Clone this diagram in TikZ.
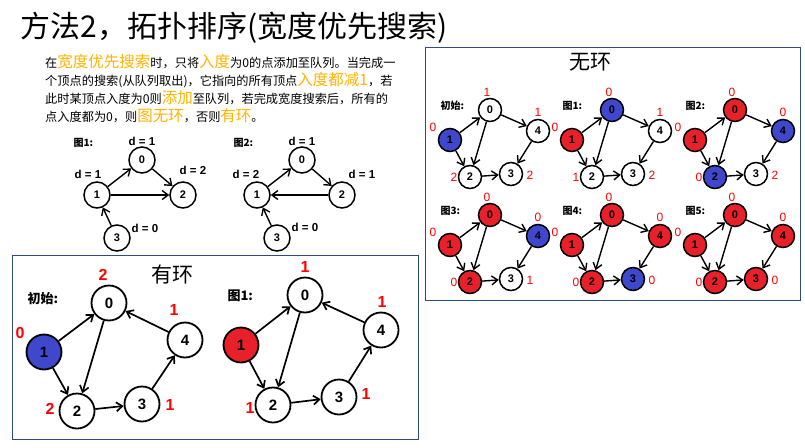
\documentclass[tikz,border=0pt]{standalone}
\usepackage{fontspec}
\setmainfont{Liberation Sans}
\newfontfamily\cjk{Noto Sans CJK SC}
\usetikzlibrary{arrows.meta}
\definecolor{hl}{HTML}{FFB400}
\definecolor{nred}{HTML}{E8202A}
\definecolor{nblue}{HTML}{3F48CC}
\definecolor{boxb}{HTML}{2F4A8A}
\tikzset{
  vx/.style={circle,draw=black,line width=1.5pt,minimum size=#1,inner sep=0pt,font=\bfseries\fontsize{11}{11}\selectfont},
  vx/.default=23pt,
  ed/.style={line width=1.4pt,-{Straight Barb[length=6pt,width=9pt]}},
  rl/.style={text=red,font=\fontsize{12}{12}\selectfont},
  captxt/.style={font=\cjk\bfseries\fontsize{10}{10}\selectfont,anchor=west},
  dl/.style={font=\bfseries\fontsize{11.5}{11.5}\selectfont}
}
\newcommand\hlt[1]{{\color{hl}\fontsize{15.5}{15}\selectfont #1}}
% prefix, caption, fill colors 0..4
\newcommand\acycnodes[7]{%
  \node[captxt] at (437,106) {#2};
  \node[vx,fill=#3] (#10) at (490,110) {0};
  \node[vx,fill=#4] (#11) at (450,140) {1};
  \node[vx,fill=#5] (#12) at (470,177) {2};
  \node[vx,fill=#6] (#13) at (511,174) {3};
  \node[vx,fill=#7] (#14) at (538,131) {4};
  \draw[ed] (#11) -- (#10);
  \draw[ed] (#11) -- (#12);
  \draw[ed] (#10) -- (#12);
  \draw[ed] (#12) -- (#13);
  \draw[ed] (#10) -- (#14);
  \draw[ed] (#14) -- (#13);
}
\newcommand\acyclabels[5]{%
  \node[rl] at (487,92) {#1};
  \node[rl] at (433,127) {#2};
  \node[rl] at (454,177) {#3};
  \node[rl] at (530,175) {#4};
  \node[rl] at (538,112) {#5};
}
\begin{document}
\begin{tikzpicture}[x=1pt,y=-1pt]
\useasboundingbox[fill=white] (0,0) rectangle (805,447);
% title
\node[anchor=west,font=\cjk\fontsize{30}{30}\selectfont] (title) at (17,28) {方法2，拓扑排序(宽度优先搜索)};
% paragraph
\begin{scope}[every node/.style={anchor=west,font=\cjk\fontsize{12.2}{12}\selectfont,inner sep=0pt}]
\node (p1) at (45,62) {在\hlt{宽度优先搜索}时，只将\hlt{入度}为0的点添加至队列。当完成一};
\node (p2) at (45,80) {个顶点的搜索(从队列取出)，它指向的所有顶点\hlt{入度都减1}，若};
\node (p3) at (45,98) {此时某顶点入度为0则\hlt{添加}至队列，若完成宽度搜索后，所有的};
\node (p4) at (45,116) {点入度都为0，则\hlt{图无环}，否则\hlt{有环}。};
\end{scope}
% small graphs
\node[captxt] at (70,143) {图1:};
\node[vx=26pt] (a0) at (142,160) {0};
\node[vx=26pt] (a1) at (97,195) {1};
\node[vx=26pt] (a2) at (183,195) {2};
\node[vx=26pt] (a3) at (117,238) {3};
\draw[ed] (a1) -- (a0); \draw[ed] (a0) -- (a2); \draw[ed] (a1) -- (a2); \draw[ed] (a3) -- (a1);
\node[dl] at (142,141) {d = 1};
\node[dl] at (88,174) {d = 1};
\node[dl] at (193,170) {d = 2};
\node[dl] at (145,228) {d = 0};
\node[captxt] at (230,143) {图2:};
\node[vx=26pt] (b0) at (302,160) {0};
\node[vx=26pt] (b1) at (257,195) {1};
\node[vx=26pt] (b2) at (342,195) {2};
\node[vx=26pt] (b3) at (277,238) {3};
\draw[ed] (b1) -- (b0); \draw[ed] (b0) -- (b2); \draw[ed] (b2) -- (b1); \draw[ed] (b3) -- (b1);
\node[dl] at (302,141) {d = 1};
\node[dl] at (246,174) {d = 2};
\node[dl] at (362,174) {d = 1};
\node[dl] at (305,227) {d = 0};
% cyclic box
\draw[boxb,line width=1pt] (12,255) rectangle (418,439);
\node[font=\cjk\fontsize{21}{21}\selectfont] (t1) at (172,275) {有环};
\node[captxt,font=\cjk\bfseries\fontsize{13}{13}\selectfont] at (24,299) {初始:};
\tikzset{big/.style={vx=35pt,line width=1.8pt,font=\bfseries\fontsize{15}{15}\selectfont}}
\node[big] (c0) at (109,303) {0};
\node[big,fill=nblue] (c1) at (44,352) {1};
\node[big] (c2) at (77,411) {2};
\node[big] (c3) at (142,404) {3};
\node[big] (c4) at (185,340) {4};
\foreach \s/\t in {c1/c0,c1/c2,c0/c2,c2/c3,c3/c4,c4/c0} \draw[ed,line width=1.7pt] (\s) -- (\t);
\begin{scope}[every node/.style={rl,font=\bfseries\fontsize{16}{16}\selectfont}]
\node at (103,275) {2};
\node at (20,333) {0};
\node at (174,310) {1};
\node at (50,409) {2};
\node at (170,405) {1};
\end{scope}
\node[captxt,font=\cjk\bfseries\fontsize{13}{13}\selectfont] at (224,296) {图1:};
\node[big] (e0) at (305,295) {0};
\node[big,fill=nred] (e1) at (241,345) {1};
\node[big] (e2) at (273,405) {2};
\node[big] (e3) at (339,397) {3};
\node[big] (e4) at (381,330) {4};
\foreach \s/\t in {e1/e0,e1/e2,e0/e2,e2/e3,e3/e4,e4/e0} \draw[ed,line width=1.7pt] (\s) -- (\t);
\begin{scope}[every node/.style={rl,font=\bfseries\fontsize{16}{16}\selectfont}]
\node at (305,267) {1};
\node at (382,302) {1};
\node at (250,408) {1};
\node at (366,394) {1};
\end{scope}
% acyclic box
\draw[boxb,line width=1pt] (425,47) rectangle (800,300);
\node[font=\cjk\fontsize{21}{21}\selectfont] (t2) at (590,62) {无环};
\acycnodes{g}{初始:}{white}{nblue}{white}{white}{white}
\acyclabels{1}{0}{2}{2}{1}
\begin{scope}[shift={(122,0)}]
\acycnodes{h}{图1:}{nblue}{nred}{white}{white}{white}
\acyclabels{0}{0}{1}{2}{1}
\end{scope}
\begin{scope}[shift={(245,0)}]
\acycnodes{i}{图2:}{nred}{nred}{nblue}{white}{nblue}
\acyclabels{0}{0}{0}{2}{0}
\end{scope}
\begin{scope}[shift={(0,105)}]
\acycnodes{j}{图3:}{nred}{nred}{nred}{white}{nblue}
\acyclabels{0}{0}{0}{1}{0}
\end{scope}
\begin{scope}[shift={(122,105)}]
\acycnodes{k}{图4:}{nred}{nred}{nred}{nblue}{nred}
\acyclabels{0}{0}{0}{0}{0}
\end{scope}
\begin{scope}[shift={(245,105)}]
\acycnodes{l}{图5:}{nred}{nred}{nred}{nred}{nred}
\acyclabels{0}{0}{0}{0}{0}
\end{scope}
\end{tikzpicture}
\end{document}
